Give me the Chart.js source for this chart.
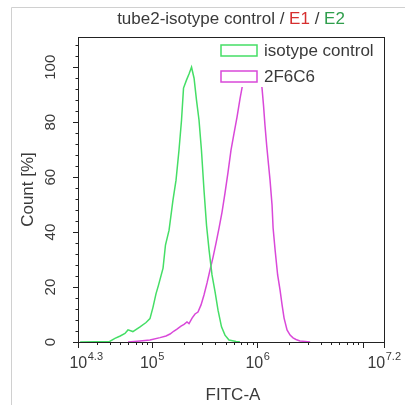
<!DOCTYPE html>
<html>
<head>
<meta charset="utf-8">
<script src="https://cdn.jsdelivr.net/npm/chart.js@4.4.0/dist/chart.umd.min.js"></script>
<style>
  html, body { margin: 0; padding: 0; background: #fff; }
  #wrap { position: relative; width: 405px; height: 405px; }
</style>
</head>
<body>
<div id="wrap"><canvas id="chart" width="405" height="405"></canvas></div>
<script>
// x values are log10(FITC-A), y values are Count [%]
const isoLog = [4.32, 4.60, 4.65, 4.70, 4.745, 4.774, 4.82, 4.888, 4.945, 4.982, 5.011, 5.039, 5.063, 5.106, 5.129, 5.163, 5.20, 5.229, 5.257, 5.281, 5.30, 5.328, 5.352, 5.376, 5.40, 5.423, 5.447, 5.47, 5.494, 5.518, 5.542, 5.57, 5.599, 5.627, 5.66, 5.693, 5.731, 5.798, 5.835];
const isoCount = [0, 0.2, 1.3, 2.2, 3.1, 4.4, 3.8, 5.5, 7.1, 8.5, 12.7, 17.5, 20.7, 26.9, 35.3, 40.7, 51.6, 58.9, 69.8, 80.7, 92.4, 95.3, 97.5, 100, 96, 88, 80.7, 69.8, 55.3, 42.5, 33.5, 24.4, 18.2, 11.6, 5.5, 2.5, 0.7, 0.2, 0];

const f2Log = [4.774, 4.888, 4.982, 5.077, 5.134, 5.172, 5.21, 5.238, 5.276, 5.305, 5.333, 5.352, 5.381, 5.409, 5.437, 5.466, 5.494, 5.523, 5.551, 5.58, 5.608, 5.637, 5.665, 5.693, 5.722, 5.75, 5.779, 5.807, 5.836, 5.864, 5.892, 5.93, 5.959, 5.997, 6.025, 6.044, 6.058, 6.072, 6.088, 6.106, 6.12, 6.139, 6.149, 6.168, 6.192, 6.215, 6.234, 6.253, 6.281, 6.31, 6.338, 6.366, 6.404, 6.452, 6.5];
const f2Count = [0, 0.4, 0.7, 1.6, 2.2, 2.9, 4.0, 4.7, 5.8, 6.4, 7.3, 6.7, 8.7, 10.2, 10.9, 13.5, 17.1, 21.5, 26.2, 30.9, 36, 41.5, 47.3, 54.2, 61.8, 69.8, 76, 81.8, 88.7, 94.5, 97.8, 99.6, 100, 99.3, 98.2, 92.4, 86.2, 78.9, 71.6, 64.4, 58.9, 49.8, 41.5, 33.5, 24.4, 18.9, 13.5, 8.7, 4.4, 2.5, 1.5, 0.9, 0.4, 0.2, 0];

const seriesNames = ['isotype control', '2F6C6'];
const seriesColors = ['#45de66', '#d948d9'];

const xRange = [4.3, 7.2];
const xLabelExps = ['4.3', '5', '6', '7.2'];
const yRange = [0, 111];
const yTickValues = [0, 20, 40, 60, 80, 100];

const FONT = '"Liberation Sans", Arial, sans-serif';
const TEXT = '#3a3a3a';

const extras = {
  id: 'extras',
  beforeDraw(chart) {
    const ctx = chart.ctx;
    ctx.save();
    ctx.fillStyle = '#fff';
    ctx.fillRect(0, 0, chart.width, chart.height);
    ctx.strokeStyle = '#d0d0d0';
    ctx.lineWidth = 1;
    ctx.beginPath();
    ctx.moveTo(11.5, chart.height);
    ctx.lineTo(11.5, 7.5);
    ctx.lineTo(chart.width, 7.5);
    ctx.stroke();
    ctx.restore();
  },
  afterDraw(chart) {
    const ctx = chart.ctx;
    const a = chart.chartArea;
    const xs = chart.scales.x, ys = chart.scales.y;
    ctx.save();

    // legend (white backing hides the curve top, like the original)
    ctx.fillStyle = '#fff';
    ctx.fillRect(a.right - 166, a.top + 3, 165, 47);
    ctx.lineWidth = 1.5;
    ctx.font = '17px ' + FONT;
    ctx.textBaseline = 'middle';
    ctx.textAlign = 'left';
    seriesNames.forEach((name, i) => {
      const by = a.top + 8 + i * 26;
      ctx.strokeStyle = seriesColors[i];
      ctx.strokeRect(a.right - 163, by, 36, 11);
      ctx.fillStyle = TEXT;
      ctx.fillText(name, a.right - 120, by + 6);
    });

    // plot frame
    ctx.strokeStyle = '#222';
    ctx.lineWidth = 1;
    ctx.strokeRect(a.left + 0.5, a.top + 0.5, a.right - a.left, a.bottom - a.top);

    // x ticks: log minors and majors
    ctx.beginPath();
    for (let n = 4; n <= 7; n++) {
      for (let k = 1; k <= 9; k++) {
        const v = n + Math.log10(k);
        if (v < xRange[0] || v > xRange[1]) continue;
        const px = Math.round(xs.getPixelForValue(v)) + 0.5;
        const len = k === 1 ? 6 : 3;
        ctx.moveTo(px, a.bottom);
        ctx.lineTo(px, a.bottom + len);
      }
    }
    [xRange[0], xRange[1]].forEach(v => {
      const px = Math.round(xs.getPixelForValue(v)) + 0.5;
      ctx.moveTo(px, a.bottom);
      ctx.lineTo(px, a.bottom + 6);
    });
    // y ticks
    for (let v = 0; v <= yRange[1]; v += 4) {
      const py = Math.round(ys.getPixelForValue(v)) + 0.5;
      const len = v % 20 === 0 ? 5 : 2.5;
      ctx.moveTo(a.left, py);
      ctx.lineTo(a.left - len, py);
    }
    ctx.stroke();

    // x tick labels with superscript exponent
    ctx.fillStyle = TEXT;
    ctx.textBaseline = 'alphabetic';
    xLabelExps.forEach((e, i) => {
      const v = parseFloat(e);
      const cx = xs.getPixelForValue(v);
      ctx.font = '16px ' + FONT;
      const wb = ctx.measureText('10').width;
      ctx.font = '11px ' + FONT;
      const we = ctx.measureText(e).width;
      let left = cx - (wb + we) / 2;
      if (i === 0) left += 8;
      ctx.font = '16px ' + FONT;
      ctx.fillText('10', left, a.bottom + 26);
      ctx.font = '11px ' + FONT;
      ctx.fillText(e, left + wb + 0.5, a.bottom + 18);
    });

    // y tick labels, rotated
    ctx.font = '15px ' + FONT;
    ctx.textAlign = 'center';
    ctx.textBaseline = 'middle';
    yTickValues.forEach(v => {
      const py = ys.getPixelForValue(v);
      ctx.save();
      ctx.translate(a.left - 27, py);
      ctx.rotate(-Math.PI / 2);
      ctx.fillText(String(v), 0, 0);
      ctx.restore();
    });

    // axis titles
    ctx.font = '17px ' + FONT;
    ctx.save();
    ctx.translate(28, (a.top + a.bottom) / 2);
    ctx.rotate(-Math.PI / 2);
    ctx.fillText('Count [%]', 0, 0);
    ctx.restore();
    ctx.fillText('FITC-A', (a.left + a.right) / 2 + 2, 395);

    // title with coloured gate names
    const parts = [['tube2-isotype control / ', TEXT], ['E1', '#d62f2f'], [' / ', TEXT], ['E2', '#2f9e4c']];
    ctx.font = '17px ' + FONT;
    const total = parts.reduce((s, p) => s + ctx.measureText(p[0]).width, 0);
    let tx = (a.left + a.right) / 2 - total / 2;
    ctx.textAlign = 'left';
    parts.forEach(p => {
      ctx.fillStyle = p[1];
      ctx.fillText(p[0], tx, 19);
      tx += ctx.measureText(p[0]).width;
    });

    ctx.restore();
  }
};

const toPoints = (xsArr, ysArr) => xsArr.map((x, i) => ({ x: x, y: ysArr[i] }));

new Chart(document.getElementById('chart'), {
  type: 'scatter',
  data: {
    datasets: [
      { label: seriesNames[0], data: toPoints(isoLog, isoCount), showLine: true, borderColor: seriesColors[0], borderWidth: 1.5, pointRadius: 0, tension: 0 },
      { label: seriesNames[1], data: toPoints(f2Log, f2Count), showLine: true, borderColor: seriesColors[1], borderWidth: 1.5, pointRadius: 0, tension: 0 }
    ]
  },
  options: {
    responsive: false,
    animation: false,
    layout: { padding: { left: 78, right: 21, top: 37, bottom: 63 } },
    scales: {
      x: { type: 'linear', display: false, min: xRange[0], max: xRange[1] },
      y: { type: 'linear', display: false, min: yRange[0], max: yRange[1] }
    },
    plugins: { legend: { display: false }, tooltip: { enabled: false } }
  },
  plugins: [extras]
});
</script>
</body>
</html>
